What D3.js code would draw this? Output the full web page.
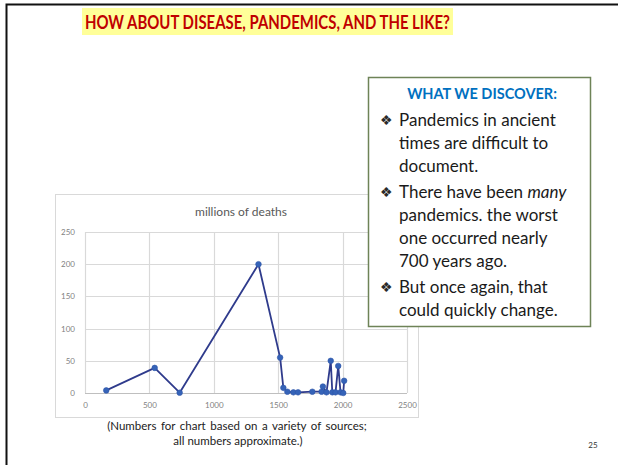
<!DOCTYPE html>
<meta charset="utf-8">
<title>Pandemics</title>
<style>
  body { margin:0; padding:0; background:#fff; }
  svg { display:block; }
  text { font-family: Lato, 'Open Sans', sans-serif; }
</style>
<body>
<div id='slide'></div>
<script src="https://cdn.jsdelivr.net/npm/d3@7"></script>
<script>

// data (year, millions of deaths)
var years  = [165, 541, 735, 1347, 1515, 1540, 1571, 1618, 1654, 1765, 1837, 1847, 1875, 1908, 1920, 1945, 1966, 1984, 2005, 2012];
var deaths = [4,   39,  0.5, 200,  55,   8,    2,    1,    1,    2,    2,    10,   1,    50,   1,    1,    42,   1,    0,    19];

var xTicks = [0, 500, 1000, 1500, 2000, 2500];
var yTicks = [0, 50, 100, 150, 200, 250];

var bullets = [
  ["Pandemics in ancient", "times are difficult to", "document."],
  ["There have been |many|", "pandemics. the worst", "one occurred nearly", "700 years ago."],
  ["But once again, that", "could quickly change."]
];

var W = 618, H = 465;
var svg = d3.select("#slide").append("svg").attr("width", W).attr("height", H);

// slide frame
svg.append("rect")
  .attr("x", 6.5).attr("y", 4.5).attr("width", 640).attr("height", 480)
  .attr("fill", "none").attr("stroke", "#111").attr("stroke-width", 2);

// heading with highlight
var head = svg.append("g");
head.append("rect")
  .attr("x", 82).attr("y", 8).attr("width", 371).attr("height", 27)
  .attr("fill", "#ffff99");
head.append("text")
  .attr("x", 85).attr("y", 29)
  .attr("textLength", 365).attr("lengthAdjust", "spacingAndGlyphs")
  .attr("font-size", 18).attr("font-weight", 700)
  .attr("fill", "#c00000")
  .text("HOW ABOUT DISEASE, PANDEMICS, AND THE LIKE?");

// chart box
svg.append("rect")
  .attr("x", 55.5).attr("y", 194.5).attr("width", 363).attr("height", 223)
  .attr("fill", "#fff").attr("stroke", "#d9d9d9").attr("stroke-width", 1);

svg.append("text")
  .attr("x", 241).attr("y", 216)
  .attr("text-anchor", "middle")
  .attr("font-size", 12).attr("fill", "#595959")
  .text("millions of deaths");

var x = d3.scaleLinear().domain([0, 2500]).range([85, 407]);
var y = d3.scaleLinear().domain([0, 250]).range([393, 232]);

var plot = svg.append("g");

// gridlines
plot.selectAll(".vg").data(xTicks).enter().append("line")
  .attr("x1", function(d) { return Math.round(x(d)) + 0.5; })
  .attr("x2", function(d) { return Math.round(x(d)) + 0.5; })
  .attr("y1", y(250)).attr("y2", y(0))
  .attr("stroke", "#d9d9d9").attr("stroke-width", 1.2);
plot.selectAll(".hg").data(yTicks).enter().append("line")
  .attr("x1", x(0)).attr("x2", x(2500))
  .attr("y1", function(d) { return Math.round(y(d)) + 0.5; })
  .attr("y2", function(d) { return Math.round(y(d)) + 0.5; })
  .attr("stroke", function(d) { return d == 0 ? "#bfbfbf" : "#d9d9d9"; })
  .attr("stroke-width", 1.2);

// tick labels
var xAxis = d3.axisBottom(x).tickValues(xTicks).tickFormat(d3.format("d")).tickSize(0).tickPadding(9);
var yAxis = d3.axisLeft(y).tickValues(yTicks).tickFormat(d3.format("d")).tickSize(0).tickPadding(10);
var gx = plot.append("g").attr("transform", "translate(0," + y(0) + ")").call(xAxis);
var gy = plot.append("g").attr("transform", "translate(" + x(0) + ",0)").call(yAxis);
[gx, gy].forEach(function(g) {
  g.select(".domain").remove();
  g.selectAll("text").attr("fill", "#7f7f7f").attr("font-size", 8)
    .attr("font-family", "Lato, sans-serif");
});

// series
var pts = years.map(function(d, i) { return [d, deaths[i]]; });
var line = d3.line().x(function(d) { return x(d[0]); }).y(function(d) { return y(d[1]); });

plot.append("path")
  .datum(pts)
  .attr("d", line)
  .attr("fill", "none")
  .attr("stroke", "#2f3b8c").attr("stroke-width", 1.8)
  .attr("stroke-linejoin", "round");

plot.selectAll(".pt").data(pts).enter().append("circle")
  .attr("cx", function(d) { return x(d[0]); })
  .attr("cy", function(d) { return y(d[1]); })
  .attr("r", 2.8)
  .attr("fill", "#3563b8").attr("stroke", "#2f55a8").attr("stroke-width", 0.6);

// caption
svg.append("text")
  .attr("x", 237).attr("y", 429.5)
  .attr("text-anchor", "middle").attr("font-size", 11.5).attr("fill", "#222")
  .attr("word-spacing", 1.6)
  .text("(Numbers for chart based on a variety of sources;");
svg.append("text")
  .attr("x", 238).attr("y", 445)
  .attr("text-anchor", "middle").attr("font-size", 11.5).attr("fill", "#222")
  .text("all numbers approximate.)");

svg.append("text")
  .attr("x", 593).attr("y", 448)
  .attr("text-anchor", "middle").attr("font-size", 8).attr("fill", "#333")
  .text("25");

// callout box
var box = svg.append("g");
box.append("rect")
  .attr("x", 368.5).attr("y", 77.5).attr("width", 222).attr("height", 249)
  .attr("fill", "#fff").attr("stroke", "#6e8357").attr("stroke-width", 1.5);

box.append("text")
  .attr("x", 482).attr("y", 99)
  .attr("text-anchor", "middle")
  .attr("font-size", 14.5).attr("font-weight", 700).attr("fill", "#0070c0")
  .text("WHAT WE DISCOVER:");

var lineY = 126, lh = 23;
bullets.forEach(function(b, bi) {
  box.append("text")
    .attr("x", 386).attr("y", lineY - 1)
    .attr("text-anchor", "middle")
    .attr("font-size", 14).attr("fill", "#2a2a2a")
    .attr("font-family", "DejaVu Sans, sans-serif")
    .text("\u2756");
  b.forEach(function(s) {
    var t = box.append("text")
      .attr("x", 399).attr("y", lineY)
      .attr("font-size", 17).attr("fill", "#1a1a1a");
    s.split("|").forEach(function(part, pi) {
      if (!part) return;
      t.append("tspan").attr("font-style", pi % 2 ? "italic" : "normal").text(part);
    });
    lineY += lh;
  });
  lineY += 3;
});

</script>
</body>
</html>
